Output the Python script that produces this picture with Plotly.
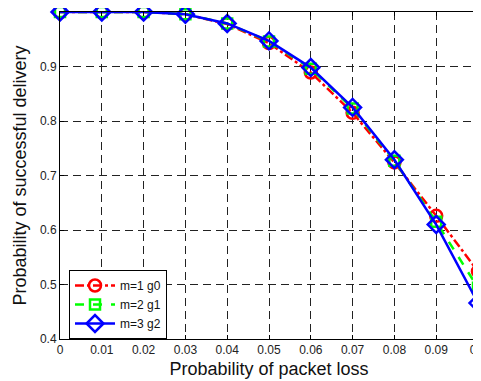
import plotly.graph_objects as go

x_vals = [0, 0.01, 0.02, 0.03, 0.04, 0.05, 0.06, 0.07, 0.08, 0.09, 0.1]
m1_g0 = [1.0, 1.0, 1.0, 0.996, 0.978, 0.943, 0.889, 0.815, 0.724, 0.626, 0.524]
m2_g1 = [1.0, 1.0, 1.0, 0.996, 0.979, 0.946, 0.896, 0.823, 0.727, 0.615, 0.494]
m3_g2 = [1.0, 1.0, 1.0, 0.996, 0.979, 0.947, 0.898, 0.825, 0.729, 0.610, 0.466]
names = ["m=1 g0", "m=2 g1", "m=3 g2"]
x_ticks = [0, 0.01, 0.02, 0.03, 0.04, 0.05, 0.06, 0.07, 0.08, 0.09, 0.1]
x_tick_text = ["0", "0.01", "0.02", "0.03", "0.04", "0.05", "0.06", "0.07", "0.08", "0.09", "0.1"]
y_ticks = [0.4, 0.5, 0.6, 0.7, 0.8, 0.9, 1.0]
y_tick_text = ["0.4", "0.5", "0.6", "0.7", "0.8", "0.9", "1"]

fig = go.Figure()
fig.add_trace(go.Scatter(
    x=x_vals, y=m1_g0, name=names[0], mode="lines+markers", cliponaxis=False,
    line=dict(color="#ff0000", width=2.5, dash="dashdot"),
    marker=dict(symbol="circle-open", size=12, color="#ff0000", line=dict(width=2.5)),
))
fig.add_trace(go.Scatter(
    x=x_vals, y=m2_g1, name=names[1], mode="lines+markers", cliponaxis=False,
    line=dict(color="#00ff00", width=2.5, dash="dash"),
    marker=dict(symbol="square-open", size=10, color="#00ff00", line=dict(width=2.5)),
))
fig.add_trace(go.Scatter(
    x=x_vals, y=m3_g2, name=names[2], mode="lines+markers", cliponaxis=False,
    line=dict(color="#0000ff", width=2.5),
    marker=dict(symbol="diamond-open", size=13, color="#0000ff", line=dict(width=2.5)),
))

axis_common = dict(
    showline=True, linecolor="black", linewidth=1, mirror="ticks",
    ticks="inside", ticklen=4, tickcolor="black",
    showgrid=True, gridcolor="#222", griddash="8px,5px", gridwidth=1,
    zeroline=False, automargin=False,
    tickfont=dict(family="Liberation Sans, Arial", size=12, color="#222"),
)

fig.update_layout(
    width=481, height=381,
    margin=dict(l=52, r=11, t=4, b=50),
    paper_bgcolor="white", plot_bgcolor="white",
    font=dict(family="Liberation Sans, Arial", color="black"),
    xaxis=dict(range=[0, 0.1], tickvals=x_ticks, ticktext=x_tick_text,
               title=dict(text="Probability of packet loss", font=dict(size=18, color="#111"), standoff=5),
               **axis_common),
    yaxis=dict(range=[0.4, 1.0], tickvals=y_ticks, ticktext=y_tick_text,
               title=dict(text="Probability of successful delivery", font=dict(size=18, color="#111"), standoff=8),
               **axis_common),
    legend=dict(x=9 / 418, y=0.0, xanchor="left", yanchor="bottom",
                bgcolor="white", bordercolor="black", borderwidth=1,
                font=dict(size=12, family="Liberation Sans, Arial", color="#111"),
                tracegroupgap=0, itemwidth=40),
    showlegend=True,
)

fig.write_html("out.html")
